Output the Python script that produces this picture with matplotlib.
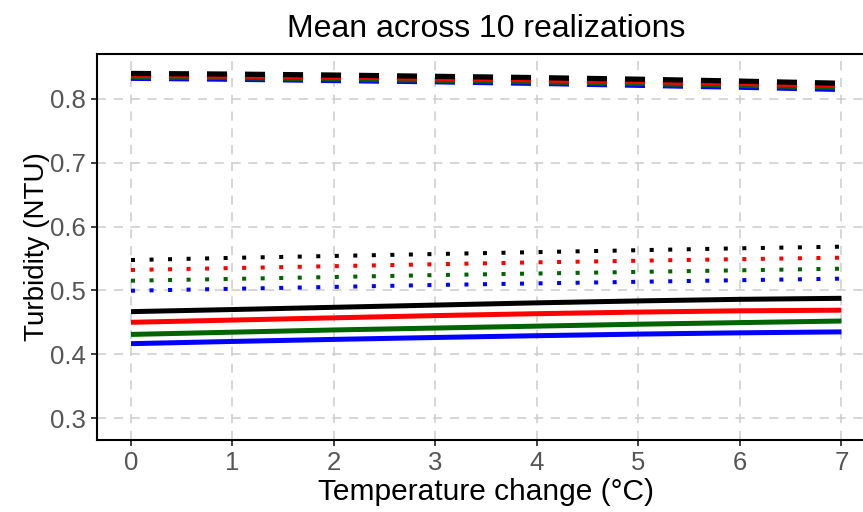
import matplotlib
matplotlib.use("Agg")
import matplotlib.pyplot as plt
import numpy as np

plt.rcParams['font.family'] = ['Liberation Sans', 'DejaVu Sans']

# temperature change steps
temp = [0, 1, 2, 3, 4, 5, 6, 7]

# scenario colours (drawn bottom to top)
colors = ['blue', 'darkgreen', 'red', 'black']

# solid lines
solid = {
    'blue':      [0.4165, 0.4200, 0.4232, 0.4262, 0.4290, 0.4315, 0.4335, 0.4350],
    'darkgreen': [0.4310, 0.4345, 0.4380, 0.4410, 0.4440, 0.4470, 0.4495, 0.4520],
    'red':       [0.4500, 0.4535, 0.4570, 0.4605, 0.4635, 0.4660, 0.4680, 0.4690],
    'black':     [0.4667, 0.4700, 0.4735, 0.4770, 0.4805, 0.4835, 0.4860, 0.4876],
}

# dotted lines
dotted = {
    'blue':      [0.4995, 0.5025, 0.5055, 0.5085, 0.5110, 0.5135, 0.5160, 0.5184],
    'darkgreen': [0.5152, 0.5180, 0.5210, 0.5240, 0.5265, 0.5290, 0.5315, 0.5340],
    'red':       [0.5320, 0.5350, 0.5380, 0.5410, 0.5440, 0.5465, 0.5490, 0.5513],
    'black':     [0.5476, 0.5510, 0.5540, 0.5570, 0.5600, 0.5630, 0.5660, 0.5685],
}

# dashed lines
dashed = {
    'blue':      [0.8325, 0.8310, 0.8290, 0.8270, 0.8245, 0.8215, 0.8185, 0.8150],
    'darkgreen': [0.8350, 0.8335, 0.8315, 0.8295, 0.8270, 0.8245, 0.8215, 0.8185],
    'red':       [0.8375, 0.8360, 0.8345, 0.8325, 0.8300, 0.8275, 0.8245, 0.8215],
    'black':     [0.8400, 0.8390, 0.8375, 0.8355, 0.8335, 0.8310, 0.8280, 0.8246],
}

xticks = [0, 1, 2, 3, 4, 5, 6, 7]
yticks = [0.3, 0.4, 0.5, 0.6, 0.7, 0.8]

fig = plt.figure(figsize=(8.63, 5.12), dpi=100)
ax = fig.add_axes([0.1124, 0.1406, 0.902, 0.7539])

for c in colors:
    ax.plot(temp, solid[c], color=c, lw=3.6, solid_capstyle='butt')
    ax.plot(temp, dotted[c], color=c, lw=2.9, linestyle=(0, (1, 3.6)),
            dash_capstyle='butt')
    ax.plot(temp, dashed[c], color=c, lw=3.8, linestyle=(0, (3.8, 3.4)),
            dash_capstyle='butt')

ax.set_xlim(-0.335, 7.335)
ax.set_ylim(0.2655, 0.8705)
ax.set_xticks(xticks)
ax.set_yticks(yticks)
ax.set_xticklabels([str(t) for t in xticks])
ax.set_yticklabels(['%.1f' % t for t in yticks])

ax.grid(True, color='#cccccc', lw=1.1, linestyle=(0, (6, 5)))
ax.set_axisbelow(True)
for s in ax.spines.values():
    s.set_linewidth(1.5)
    s.set_color('black')
ax.tick_params(axis='both', length=4, width=1.3, color='#333333',
               labelsize=18.5, labelcolor='#555555', pad=4)

ax.set_title('Mean across 10 realizations', fontsize=23, pad=12)
ax.set_xlabel('Temperature change (°C)', fontsize=21.5, labelpad=2)
ax.set_ylabel('Turbidity (NTU)', fontsize=20, labelpad=0)

fig.savefig('out.png', dpi=100)
